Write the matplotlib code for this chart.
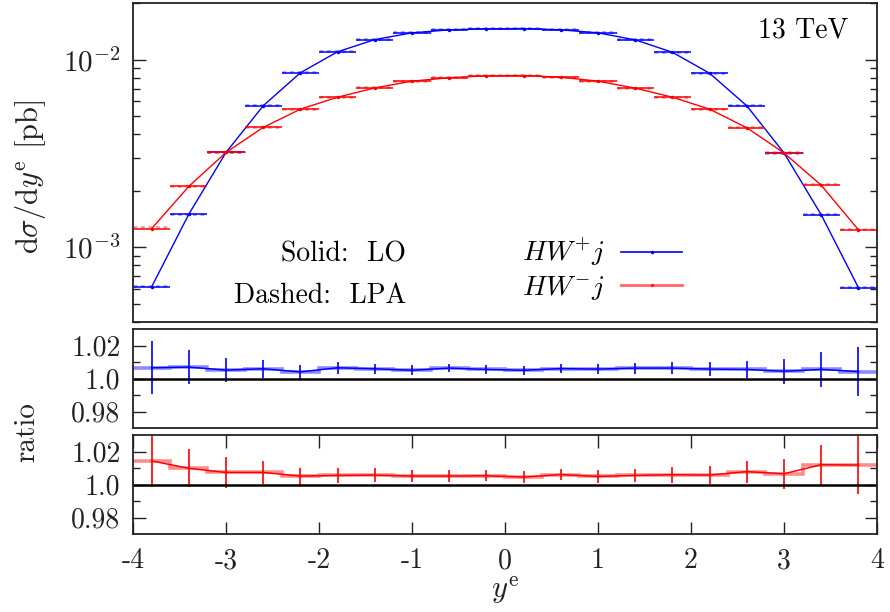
import numpy as np
import matplotlib
matplotlib.use('Agg')
import matplotlib.pyplot as plt
from matplotlib.ticker import FixedLocator, NullFormatter, LogLocator, LogFormatterMathtext
from matplotlib.lines import Line2D

plt.rcParams['font.family'] = 'serif'
plt.rcParams['font.serif'] = ['cmr10']
plt.rcParams['mathtext.fontset'] = 'cm'
plt.rcParams['axes.unicode_minus'] = False
plt.rcParams['axes.formatter.use_mathtext'] = True
plt.rcParams['font.size'] = 20

# bin centres (width 0.4)
ye = [-3.8, -3.4, -3.0, -2.6, -2.2, -1.8, -1.4, -1.0, -0.6, -0.2,
      0.2, 0.6, 1.0, 1.4, 1.8, 2.2, 2.6, 3.0, 3.4, 3.8]
bin_edges = [-4.0, -3.6, -3.2, -2.8, -2.4, -2.0, -1.6, -1.2, -0.8, -0.4, 0.0,
             0.4, 0.8, 1.2, 1.6, 2.0, 2.4, 2.8, 3.2, 3.6, 4.0]

# LO d sigma / d y^e [pb]
lo_wp = [6.15e-4, 1.50e-3, 3.20e-3, 5.67e-3, 8.50e-3, 1.10e-2, 1.277e-2, 1.387e-2, 1.439e-2, 1.457e-2,
         1.462e-2, 1.439e-2, 1.387e-2, 1.273e-2, 1.093e-2, 8.45e-3, 5.67e-3, 3.18e-3, 1.49e-3, 6.10e-4]
lo_wm = [1.257e-3, 2.11e-3, 3.20e-3, 4.35e-3, 5.44e-3, 6.30e-3, 7.06e-3, 7.67e-3, 8.00e-3, 8.19e-3,
         8.22e-3, 8.05e-3, 7.67e-3, 7.04e-3, 6.30e-3, 5.44e-3, 4.33e-3, 3.18e-3, 2.14e-3, 1.24e-3]

# LPA / LO ratio and its error
ratio_wp = [1.0065, 1.0069, 1.0051, 1.0059, 1.0040, 1.0065, 1.0059, 1.0050, 1.0063, 1.0055,
            1.0050, 1.0060, 1.0057, 1.0063, 1.0063, 1.0057, 1.0055, 1.0044, 1.0055, 1.0042]
err_wp = [0.016, 0.0104, 0.0075, 0.0055, 0.0040, 0.0037, 0.0031, 0.0029, 0.0026, 0.0028,
          0.0027, 0.0028, 0.0030, 0.0033, 0.0036, 0.0044, 0.0053, 0.0075, 0.0104, 0.015]
ratio_wm = [1.0143, 1.0098, 1.0073, 1.0073, 1.0051, 1.0055, 1.0057, 1.0051, 1.0051, 1.0053,
            1.0045, 1.0060, 1.0049, 1.0055, 1.0059, 1.0057, 1.0078, 1.0065, 1.0120, 1.0118]
err_wm = [0.016, 0.0116, 0.0095, 0.0071, 0.0051, 0.0044, 0.0040, 0.0036, 0.0035, 0.0034,
          0.0035, 0.0034, 0.0037, 0.0040, 0.0047, 0.0054, 0.0067, 0.0090, 0.0120, 0.0174]

x = np.array(ye)
blue = '#0000ff'
red = '#ff0000'
ink = '#222222'

fig = plt.figure(figsize=(8.9, 6.12), dpi=100)
L, W = 133 / 890, (877 - 133) / 890
ax = fig.add_axes([L, 1 - 322 / 612, W, (322 - 3) / 612])
ax1 = fig.add_axes([L, 1 - 428 / 612, W, (428 - 329) / 612])
ax2 = fig.add_axes([L, 1 - 534 / 612, W, (534 - 435) / 612])

# main panel
for lo, rat, c in [(lo_wp, ratio_wp, blue), (lo_wm, ratio_wm, red)]:
    lo = np.array(lo)
    lpa = lo * np.array(rat)
    ax.hlines(lpa, x - 0.2, x + 0.2, colors=c, linestyles=(0, (1.5, 1.5)), lw=1.8, alpha=0.45)
    ax.hlines(lo, x - 0.2, x + 0.2, colors=c, lw=1.1)
    ax.plot(x, lo, '-', color=c, lw=1.0, marker='.', ms=3)

ax.set_yscale('log')
ax.set_ylim(4e-4, 2e-2)
ax.set_xlim(-4, 4)
ax.yaxis.set_major_locator(LogLocator(base=10, numticks=10))
ax.yaxis.set_major_formatter(LogFormatterMathtext())
ax.yaxis.set_minor_locator(LogLocator(base=10, subs=np.arange(2, 10), numticks=20))
ax.yaxis.set_minor_formatter(NullFormatter())
ax.tick_params(axis='y', which='both', direction='in', left=True, right=True,
               colors=ink, pad=9)
ax.tick_params(axis='y', which='major', length=9, width=1.0, labelsize=21)
ax.tick_params(axis='y', which='minor', length=5, width=1.0)
ax.tick_params(axis='x', which='both', bottom=False, top=False, labelbottom=False)
ax.text(0.962, 0.915, '13 TeV', transform=ax.transAxes, ha='right', va='center')
fig.text(406 / 890, 1 - 254 / 612, 'Solid:  LO', ha='right', va='center')
fig.text(406 / 890, 1 - 296 / 612, 'Dashed:  LPA', ha='right', va='center')

handles = [Line2D([], [], color=blue, lw=1.2, marker='.', ms=3),
           Line2D([], [], color=red, lw=2.0, alpha=0.6, marker='.', ms=3)]
ax.legend(handles, [r'$HW^{+}j$', r'$HW^{-}j$'], loc='center',
          bbox_to_anchor=(602 / 890, 1 - 269 / 612), bbox_transform=fig.transFigure,
          frameon=False, markerfirst=False, handlelength=2.2, handletextpad=0.6,
          labelspacing=0.2, borderpad=0.0, fontsize=20)

# ratio panels
for a, rat, err, c in [(ax1, ratio_wp, err_wp, blue), (ax2, ratio_wm, err_wm, red)]:
    a.stairs(rat, bin_edges, color=c, lw=2.6, alpha=0.45, baseline=None)
    a.plot(x, rat, '-', color=c, lw=1.1)
    a.errorbar(x, rat, yerr=err, fmt='none', ecolor=c, elinewidth=1.2, capsize=0)
    a.axhline(1.0, color='black', lw=1.8)
    a.set_xlim(-4, 4)
    a.set_ylim(0.97, 1.03)
    a.yaxis.set_major_locator(FixedLocator([0.98, 1.0, 1.02]))
    a.set_yticklabels(['0.98', '1.0', '1.02'])
    a.yaxis.set_minor_locator(FixedLocator([0.99, 1.01]))
    a.tick_params(axis='y', which='both', direction='in', left=True, right=True,
                  width=1.0, colors=ink, pad=9)
    a.tick_params(axis='y', which='major', length=9)
    a.tick_params(axis='y', which='minor', length=5)

ax1.tick_params(axis='x', which='both', bottom=False, top=False, labelbottom=False)
ax2.set_xticks([-4, -3, -2, -1, 0, 1, 2, 3, 4])
ax2.set_xticklabels(['-4', '-3', '-2', '-1', '0', '1', '2', '3', '4'])
ax2.tick_params(axis='x', which='major', direction='in', top=True, bottom=True,
                length=9, width=1.0, pad=10, colors=ink)

for a in (ax, ax1, ax2):
    for s in a.spines.values():
        s.set_linewidth(1.3)
        s.set_color(ink)

fig.text(30 / 890, 1 - 177 / 612, r'd$\sigma$/d$y^{\mathrm{e}}$ [pb]', rotation=90,
         ha='center', va='center', fontsize=22, color=ink)
fig.text(27 / 890, 1 - 432 / 612, 'ratio', rotation=90, ha='center', va='center',
         fontsize=21, color=ink)
fig.text(505 / 890, 1 - 590 / 612, r'$y^{\mathrm{e}}$', ha='center', va='center',
         fontsize=22, color=ink)

fig.savefig('out.png', dpi=100)
